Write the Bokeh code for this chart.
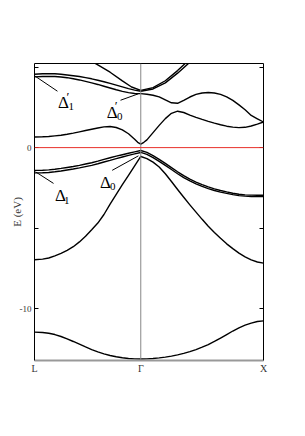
from bokeh.plotting import figure
from bokeh.models import Range1d, LinearAxis, FixedTicker, Span, Label
from bokeh.embed import file_html
from bokeh.resources import INLINE

# ---- k-path (units of 2pi/a): L -> Gamma -> X ----
K_L, K_G, K_X = -0.866, 0.0, 1.0
k_ticks = [K_L, K_G, K_X]
k_tick_labels = ["L", "\u0393", "X"]

E_label_ticks = [-10, 0]
E_label_text = ["-10", "0"]
E_unlabelled_ticks = [-5, 5]

kL = [-0.866, -0.8, -0.75, -0.7, -0.65, -0.6, -0.55, -0.5, -0.45, -0.4,
      -0.35, -0.3, -0.25, -0.2, -0.15, -0.1, -0.05, 0.0]
kR = [0.05, 0.1, 0.15, 0.2, 0.25, 0.3, 0.35, 0.4, 0.45, 0.5,
      0.55, 0.6, 0.65, 0.7, 0.75, 0.8, 0.85, 0.9, 0.95, 1.0]

# ---- valence bands (eV) ----
s_band_E = [-11.45, -11.47, -11.52, -11.6, -11.72, -11.87, -12.03, -12.2, -12.37, -12.53,
            -12.67, -12.8, -12.9, -12.98, -13.04, -13.09, -13.11, -13.12,
            -13.11, -13.09, -13.05, -13.0, -12.94, -12.86, -12.77, -12.66, -12.53, -12.38,
            -12.22, -12.03, -11.82, -11.6, -11.38, -11.18, -11.02, -10.89, -10.79, -10.75]

so_band_E = [-6.96, -6.92, -6.85, -6.72, -6.56, -6.37, -6.15, -5.85, -5.5, -5.1,
             -4.68, -4.15, -3.5, -2.9, -2.3, -1.72, -1.13, -0.55,
             -0.68, -0.9, -1.2, -1.62, -2.1, -2.6, -3.08, -3.55, -4.0, -4.45,
             -4.88, -5.27, -5.63, -5.97, -6.27, -6.55, -6.78, -6.97, -7.1, -7.17]

hh_band_E = [-1.41, -1.4, -1.38, -1.34, -1.29, -1.23, -1.17, -1.1, -1.02, -0.94,
             -0.84, -0.73, -0.63, -0.53, -0.44, -0.35, -0.26, -0.18,
             -0.3, -0.5, -0.73, -0.98, -1.24, -1.5, -1.74, -1.96, -2.14, -2.3,
             -2.44, -2.56, -2.66, -2.75, -2.83, -2.89, -2.93, -2.95, -2.96, -2.96]

lh_band_E = [-1.57, -1.56, -1.54, -1.5, -1.45, -1.39, -1.33, -1.26, -1.18, -1.1,
             -1.0, -0.89, -0.79, -0.68, -0.58, -0.48, -0.39, -0.3,
             -0.42, -0.62, -0.85, -1.1, -1.36, -1.62, -1.86, -2.07, -2.25, -2.41,
             -2.54, -2.66, -2.76, -2.84, -2.92, -2.98, -3.01, -3.03, -3.04, -3.04]

# ---- conduction bands (eV) ----
c1_band_k = kL[:-1] + [-0.025, 0.0, 0.025] + kR
c1_band_E = [0.66, 0.67, 0.69, 0.73, 0.77, 0.83, 0.9, 0.98, 1.06, 1.14,
             1.22, 1.29, 1.31, 1.25, 1.1, 0.86, 0.52,
             0.33, 0.22, 0.33,
             0.48, 0.93, 1.38, 1.8, 2.13, 2.26, 2.18, 2.02, 1.88, 1.75,
             1.63, 1.52, 1.42, 1.33, 1.27, 1.24, 1.26, 1.34, 1.46, 1.59]

c2_band_k = [0.0] + kR
c2_band_E = [3.35, 3.31, 3.25, 3.15, 2.96, 2.78, 2.75, 2.93, 3.14, 3.3, 3.39,
             3.42, 3.39, 3.3, 3.15, 2.93, 2.65, 2.35, 2.0, 1.79, 1.59]

c2a_left_E = [4.55, 4.58, 4.59, 4.58, 4.55, 4.51, 4.46, 4.41, 4.34, 4.27,
              4.18, 4.09, 3.99, 3.88, 3.77, 3.66, 3.57, 3.5]
c2b_left_E = [4.39, 4.41, 4.42, 4.41, 4.38, 4.34, 4.27, 4.2, 4.11, 4.02,
              3.92, 3.81, 3.7, 3.59, 3.49, 3.41, 3.36, 3.35]

c3_left_k = [-0.41, -0.35, -0.25, -0.15, -0.075, 0.0]
c3_left_E = [5.4, 5.13, 4.68, 4.14, 3.76, 3.55]
c3a_right_k = [0.0, 0.1, 0.2, 0.3, 0.38]
c3a_right_E = [3.55, 3.72, 4.15, 4.78, 5.35]
c3b_right_k = [0.0, 0.1, 0.2, 0.3, 0.4]
c3b_right_E = [3.5, 3.64, 4.02, 4.62, 5.3]

full_k = kL + kR
bands = [
    (full_k, s_band_E), (full_k, so_band_E), (full_k, hh_band_E), (full_k, lh_band_E),
    (c1_band_k, c1_band_E), (c2_band_k, c2_band_E),
    (kL, c2a_left_E), (kL, c2b_left_E), (c3_left_k, c3_left_E),
    (c3a_right_k, c3a_right_E), (c3b_right_k, c3b_right_E),
]

# ---- splitting annotations ----
ann_names = ["\u0394", "\u0394", "\u0394", "\u0394"]
ann_subs = ["1", "0", "1", "0"]
ann_prime = [True, True, False, False]
ann_main_pos = [(-0.675, 2.78), (-0.278, 2.16), (-0.699, -2.99), (-0.332, -2.19)]
ann_sub_pos = [(-0.589, 2.57), (-0.194, 1.94), (-0.626, -3.27), (-0.251, -2.4)]
ann_prime_pos = [(-0.605, 3.66), (-0.212, 3.08), None, None]
ptr_x0 = [-0.866, -0.165, -0.858, -0.233]
ptr_y0 = [4.46, 2.94, -1.50, -1.41]
ptr_x1 = [-0.679, -0.019, -0.711, -0.019]
ptr_y1 = [3.50, 3.34, -2.22, -0.51]

FONT = "Liberation Serif"
TXT = "#333333"

p = figure(width=297, height=390,
           x_range=Range1d(K_L, K_X), y_range=Range1d(-13.21, 5.22),
           output_backend="svg", toolbar_location=None,
           min_border_left=34, min_border_right=34, min_border_top=63, min_border_bottom=30)
p.grid.visible = False
p.outline_line_color = None
p.background_fill_color = "white"
p.border_fill_color = "white"

# x axis
p.xaxis.ticker = FixedTicker(ticks=k_ticks)
p.xaxis.major_label_overrides = {t: l for t, l in zip(k_ticks, k_tick_labels)}
p.xaxis.major_tick_in = 0
p.xaxis.major_tick_out = 0
p.xaxis.minor_tick_line_color = None
p.xaxis.axis_line_color = "#999999"
p.xaxis.axis_line_width = 2
p.xaxis.major_label_text_font = FONT
p.xaxis.major_label_text_font_size = "10px"
p.xaxis.major_label_text_color = TXT
p.xaxis.major_label_standoff = 2

# y axis (labels at -10 and 0, unlabelled ticks at -5 and 5)
p.yaxis.ticker = FixedTicker(ticks=E_label_ticks, minor_ticks=E_unlabelled_ticks)
p.yaxis.major_label_overrides = {t: l for t, l in zip(E_label_ticks, E_label_text)}
p.yaxis.major_tick_in = 4
p.yaxis.major_tick_out = 0
p.yaxis.minor_tick_in = 4
p.yaxis.minor_tick_out = 0
p.yaxis.minor_tick_line_color = "black"
p.yaxis.axis_line_color = "black"
p.yaxis.major_label_text_font = FONT
p.yaxis.major_label_text_font_size = "9px"
p.yaxis.major_label_text_color = TXT
p.yaxis.major_label_standoff = 3
p.yaxis.axis_label = "E (eV)"
p.yaxis.axis_label_text_font = FONT
p.yaxis.axis_label_text_font_style = "normal"
p.yaxis.axis_label_text_font_size = "11px"
p.yaxis.axis_label_text_color = TXT
p.yaxis.axis_label_standoff = -6

right = LinearAxis(ticker=FixedTicker(ticks=[], minor_ticks=E_label_ticks + E_unlabelled_ticks),
                   major_tick_in=0, major_tick_out=0,
                   minor_tick_in=4, minor_tick_out=0, minor_tick_line_color="black",
                   axis_line_color="black")
p.add_layout(right, "right")
top = LinearAxis(ticker=FixedTicker(ticks=[]), major_tick_in=0, major_tick_out=0,
                 minor_tick_line_color=None, axis_line_color="black")
p.add_layout(top, "above")

p.add_layout(Span(location=K_G, dimension="height", line_color="#888888", line_width=1))
p.add_layout(Span(location=0, dimension="width", line_color="#e8302a", line_width=1))

for kk, ee in bands:
    p.line(kk, ee, line_color="black", line_width=1.4, line_join="round")

p.segment(ptr_x0, ptr_y0, ptr_x1, ptr_y1, line_color="black", line_width=1)

for name, sub, pr, mp, sp, pp in zip(ann_names, ann_subs, ann_prime, ann_main_pos,
                                      ann_sub_pos, ann_prime_pos):
    p.add_layout(Label(x=mp[0], y=mp[1], text=name, text_font=FONT, text_font_size="17px",
                       text_baseline="alphabetic", text_color="black"))
    p.add_layout(Label(x=sp[0], y=sp[1], text=sub, text_font=FONT, text_font_size="11px",
                       text_baseline="alphabetic", text_color="black"))
    if pr:
        p.add_layout(Label(x=pp[0], y=pp[1], text="\u2032", text_font=FONT,
                           text_font_size="13px", text_baseline="top", text_color="black"))

open("out.html", "w").write(file_html(p, INLINE))
